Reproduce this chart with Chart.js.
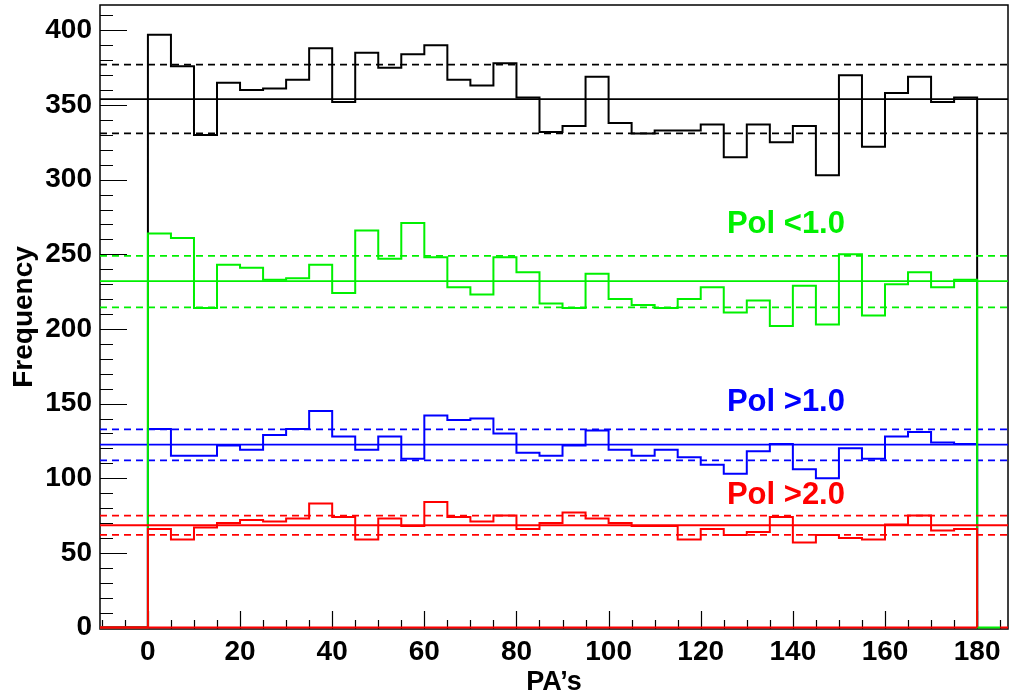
<!DOCTYPE html>
<html>
<head>
<meta charset="utf-8">
<script src="https://cdn.jsdelivr.net/npm/chart.js"></script>
<style>
  html, body { margin: 0; padding: 0; background: #fff; }
  #wrap { width: 1011px; height: 696px; }
</style>
</head>
<body>
<div id="wrap"><canvas id="paChart" width="1011" height="696"></canvas></div>
<script>
// bins de 5 degrés, de 0 à 180
const binStarts = [0, 5, 10, 15, 20, 25, 30, 35, 40, 45, 50, 55, 60, 65, 70, 75, 80, 85,
  90, 95, 100, 105, 110, 115, 120, 125, 130, 135, 140, 145, 150, 155, 160, 165, 170, 175];
const BIN_W = 5;

// tous les PA
const allCounts = [397, 376, 330, 365, 360, 361, 367, 388, 352, 385, 375, 384, 390, 367, 363, 378, 355, 332,
  336, 369, 338, 331, 333, 333, 337, 315, 337, 325, 336, 303, 370, 322, 358, 369, 352, 355];
// Pol < 1.0
const polLt1Counts = [264, 261, 214, 243, 241, 233, 234, 243, 224, 266, 247, 271, 248, 228, 223, 248, 238, 217,
  214, 237, 220, 216, 214, 220, 228, 211, 219, 202, 229, 203, 250, 209, 230, 238, 228, 233];
// Pol > 1.0
const polGt1Counts = [133, 115, 115, 122, 119, 129, 133, 145, 128, 119, 128, 113, 142, 139, 140, 130, 117, 115,
  122, 132, 119, 115, 119, 114, 109, 103, 118, 123, 106, 100, 120, 113, 128, 131, 124, 123];
// Pol > 2.0
const polGt2Counts = [66, 59, 67, 70, 72, 71, 73, 83, 74, 59, 73, 68, 84, 74, 71, 75, 66, 70,
  77, 73, 70, 68, 68, 59, 66, 62, 64, 74, 57, 62, 60, 59, 69, 75, 65, 66];

// moyenne et +/- sigma : [bas, moyenne, haut]
const allBand = [331, 354, 377];
const polLt1Band = [214.5, 232, 249];
const polGt1Band = [112, 122.5, 132.7];
const polGt2Band = [62, 68.5, 75];

const xTickValues = [0, 20, 40, 60, 80, 100, 120, 140, 160, 180];
const yTickValues = [0, 50, 100, 150, 200, 250, 300, 350, 400];
const polLabels = ["Pol <1.0", "Pol >1.0", "Pol >2.0"];

const X_MIN = -10.4, X_MAX = 186.7;
const Y_MIN = -1, Y_MAX = 417;
const FONT = "'Liberation Sans', Arial, Helvetica, sans-serif";

const BLACK = "#000000";
const GREEN = "#00f000";
const BLUE = "#0000ff";
const RED = "#ff0000";

// histogramme en escalier (style ROOT)
function histPoints(counts, tailEnd) {
  const pts = [{ x: X_MIN, y: 0 }, { x: binStarts[0], y: 0 }];
  counts.forEach((c, i) => pts.push({ x: binStarts[i], y: c }));
  const end = binStarts[binStarts.length - 1] + BIN_W;
  pts.push({ x: end, y: 0 });
  if (tailEnd) pts.push({ x: tailEnd, y: 0 });
  return pts;
}

function histSet(counts, color, order, tail) {
  return {
    data: histPoints(counts, tail),
    borderColor: color,
    borderWidth: 2,
    stepped: "before",
    pointRadius: 0,
    fill: false,
    order: order
  };
}

function bandSets(band, color, order) {
  const mk = (v, dashed) => ({
    data: [{ x: X_MIN, y: v }, { x: X_MAX, y: v }],
    borderColor: color,
    borderWidth: 1.8,
    borderDash: dashed ? [7, 5] : [],
    pointRadius: 0,
    fill: false,
    order: order
  });
  return [mk(band[0], true), mk(band[1], false), mk(band[2], true)];
}

// ligne rouge au niveau zéro, interrompue entre 180 et 185
const redBase = {
  data: [{ x: X_MIN, y: 0 }, { x: 180, y: 0 }, { x: 182, y: null }, { x: 185, y: 0 }, { x: X_MAX, y: 0 }],
  borderColor: RED,
  borderWidth: 2,
  pointRadius: 0,
  fill: false,
  order: 0
};

const datasets = [
  redBase,
  histSet(polGt2Counts, RED, 1, null),
  ...bandSets(polGt2Band, RED, 2),
  histSet(polLt1Counts, GREEN, 3, 185),
  ...bandSets(polLt1Band, GREEN, 4),
  histSet(polGt1Counts, BLUE, 5, 180),
  ...bandSets(polGt1Band, BLUE, 6),
  histSet(allCounts, BLACK, 7, 180),
  ...bandSets(allBand, BLACK, 8)
];

// cadre + graduations vers l'intérieur
const framePlugin = {
  id: "frame",
  beforeDatasetsDraw(chart) {
    const { ctx, chartArea: a, scales } = chart;
    ctx.save();
    ctx.strokeStyle = "#000";
    ctx.lineWidth = 1.5;
    ctx.strokeRect(a.left, a.top, a.right - a.left, a.bottom - a.top);

    ctx.lineWidth = 1.2;
    ctx.beginPath();
    for (let v = 0; v <= Y_MAX; v += 10) {
      const y = Math.round(scales.y.getPixelForValue(v)) + 0.5;
      const len = v % 50 === 0 ? 27 : 13;
      ctx.moveTo(a.left, y);
      ctx.lineTo(a.left + len, y);
    }
    for (let v = -10; v <= X_MAX; v += 5) {
      const x = Math.round(scales.x.getPixelForValue(v)) + 0.5;
      const len = v % 20 === 0 ? 18 : 9;
      ctx.moveTo(x, a.bottom);
      ctx.lineTo(x, a.bottom - len);
    }
    ctx.stroke();
    ctx.restore();
  }
};

// étiquettes "Pol ..."
const labelAnchors = [
  { x: 138.5, y: 270, color: GREEN },
  { x: 138.5, y: 151, color: BLUE },
  { x: 138.5, y: 88.5, color: RED }
];
const labelPlugin = {
  id: "polLabels",
  afterDatasetsDraw(chart) {
    const { ctx, scales } = chart;
    ctx.save();
    ctx.font = "bold 31px " + FONT;
    ctx.textAlign = "center";
    ctx.textBaseline = "middle";
    polLabels.forEach((txt, i) => {
      const p = labelAnchors[i];
      ctx.fillStyle = p.color;
      ctx.fillText(txt, scales.x.getPixelForValue(p.x), scales.y.getPixelForValue(p.y));
    });
    ctx.restore();
  }
};

const ctx = document.getElementById("paChart").getContext("2d");
new Chart(ctx, {
  type: "line",
  data: { datasets },
  options: {
    responsive: false,
    animation: false,
    events: [],
    layout: { padding: { top: 5, right: 3, left: 0, bottom: 0 } },
    plugins: { legend: { display: false }, tooltip: { enabled: false } },
    scales: {
      x: {
        type: "linear",
        min: X_MIN,
        max: X_MAX,
        afterBuildTicks: s => { s.ticks = xTickValues.map(v => ({ value: v })); },
        afterFit: s => { s.height = 67; s.paddingLeft = 0; s.paddingRight = 0; },
        grid: { display: false, drawTicks: false },
        border: { display: false },
        ticks: {
          padding: 6,
          color: "#000",
          maxRotation: 0,
          autoSkip: false,
          font: { family: FONT, size: 28, weight: "bold" }
        },
        title: {
          display: true,
          text: "PA’s",
          color: "#000",
          padding: { top: 0, bottom: 0 },
          font: { family: FONT, size: 27, weight: "bold", lineHeight: 1.0 }
        }
      },
      y: {
        type: "linear",
        min: Y_MIN,
        max: Y_MAX,
        afterBuildTicks: s => { s.ticks = yTickValues.map(v => ({ value: v })); },
        afterFit: s => { s.width = 100; s.paddingTop = 0; s.paddingBottom = 0; },
        grid: { display: false, drawTicks: false },
        border: { display: false },
        ticks: {
          padding: 8,
          color: "#000",
          autoSkip: false,
          font: { family: FONT, size: 28, weight: "bold" }
        },
        title: {
          display: true,
          text: "Frequency",
          color: "#000",
          padding: { top: 10, bottom: 0 },
          font: { family: FONT, size: 28, weight: "bold", lineHeight: 1.0 }
        }
      }
    }
  },
  plugins: [framePlugin, labelPlugin]
});
</script>
</body>
</html>
